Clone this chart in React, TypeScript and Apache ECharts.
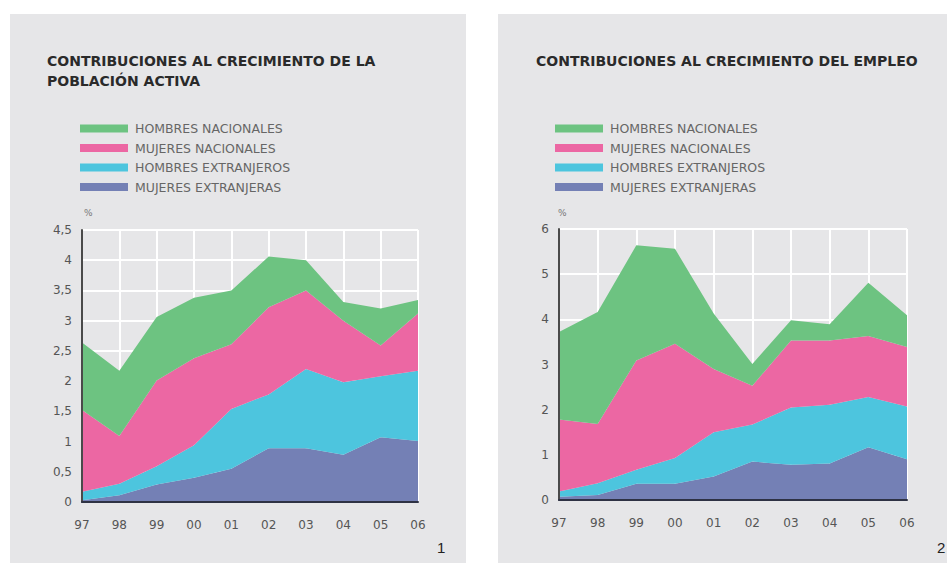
import React, { useEffect, useRef } from "react";
import * as echarts from "echarts";

const years = ["97", "98", "99", "00", "01", "02", "03", "04", "05", "06"];
const seriesNames = ["MUJERES EXTRANJERAS", "HOMBRES EXTRANJEROS", "MUJERES NACIONALES", "HOMBRES NACIONALES"];
const legendOrder = ["HOMBRES NACIONALES", "MUJERES NACIONALES", "HOMBRES EXTRANJEROS", "MUJERES EXTRANJERAS"];
const colors = ["#7480b5", "#4dc5de", "#ec67a3", "#6dc381"];

// Chart 1: contribuciones al crecimiento de la población activa (stacked increments)
const activaMujeresExt = [0.03, 0.11, 0.29, 0.40, 0.55, 0.89, 0.89, 0.78, 1.07, 1.01];
const activaHombresExt = [0.14, 0.19, 0.30, 0.54, 0.99, 0.89, 1.31, 1.20, 1.01, 1.16];
const activaMujeresNac = [1.35, 0.79, 1.42, 1.44, 1.07, 1.44, 1.30, 1.02, 0.51, 0.95];
const activaHombresNac = [1.12, 1.08, 1.05, 1.00, 0.89, 0.84, 0.50, 0.31, 0.61, 0.22];

// Chart 2: contribuciones al crecimiento del empleo (stacked increments)
const empleoMujeresExt = [0.07, 0.11, 0.36, 0.36, 0.52, 0.85, 0.78, 0.81, 1.17, 0.90];
const empleoHombresExt = [0.12, 0.26, 0.31, 0.57, 0.98, 0.82, 1.27, 1.30, 1.11, 1.17];
const empleoMujeresNac = [1.59, 1.31, 2.42, 2.53, 1.40, 0.86, 1.48, 1.42, 1.35, 1.32];
const empleoHombresNac = [1.94, 2.48, 2.55, 2.10, 1.23, 0.48, 0.45, 0.36, 1.18, 0.70];

const titleLeft = ["CONTRIBUCIONES AL CRECIMIENTO DE LA", "POBLACIÓN ACTIVA"];
const titleRight = "CONTRIBUCIONES AL CRECIMIENTO DEL EMPLEO";

const FONT = "'DejaVu Sans', 'Liberation Sans', Arial, sans-serif";
const PANEL_BG = "#e6e6e8";

function makeSeries(data: number[][], idx: number) {
  return data.map((d, i) => ({
    name: seriesNames[i],
    type: "line",
    xAxisIndex: idx,
    yAxisIndex: idx,
    stack: "s" + idx,
    data: d,
    symbol: "none",
    smooth: false,
    lineStyle: { width: 0 },
    itemStyle: { color: colors[i] },
    areaStyle: { color: colors[i], opacity: 1 },
    z: 2,
  }));
}

function makeX(idx: number) {
  return {
    type: "category",
    gridIndex: idx,
    position: "bottom",
    data: years,
    boundaryGap: false,
    axisLine: { show: false },
    axisTick: { show: false },
    axisLabel: { color: "#555", fontSize: 12, fontFamily: FONT, margin: 17 },
    splitLine: { show: true, lineStyle: { color: "#ffffff", width: 2 } },
    z: 0,
  };
}

function makeXLine(idx: number) {
  return {
    type: "category",
    gridIndex: idx,
    position: "bottom",
    offset: 0,
    data: years,
    boundaryGap: false,
    axisLine: { show: true, onZero: false, lineStyle: { color: "#2e3244", width: 2 } },
    axisTick: { show: false },
    axisLabel: { show: false },
    splitLine: { show: false },
    z: 10,
  };
}

function makeY(idx: number, max: number, interval: number) {
  return {
    type: "value",
    gridIndex: idx,
    position: "left",
    min: 0,
    max,
    interval,
    axisLine: { show: false },
    axisTick: { show: false },
    axisLabel: {
      color: "#555",
      fontSize: 12,
      fontFamily: FONT,
      margin: 10,
      formatter: (v: number) => String(v).replace(".", ","),
    },
    splitLine: { show: true, lineStyle: { color: "#ffffff", width: 2 } },
    z: 0,
  };
}

function makeYLine(idx: number, max: number) {
  return {
    type: "value",
    gridIndex: idx,
    position: "left",
    offset: 0,
    min: 0,
    max,
    axisLine: { show: true, onZero: false, lineStyle: { color: "#4a4a4a", width: 2 } },
    axisTick: { show: false },
    axisLabel: { show: false },
    splitLine: { show: false },
    z: 10,
  };
}

function makeLegend(left: number) {
  return {
    orient: "vertical",
    left,
    top: 122,
    padding: 0,
    data: legendOrder,
    icon: "rect",
    itemWidth: 48,
    itemHeight: 8,
    itemGap: 6.5,
    selectedMode: false,
    textStyle: { color: "#666", fontSize: 12.5, fontFamily: FONT, padding: [0, 0, 0, 2] },
  };
}

export default function App() {
  const ref = useRef<HTMLDivElement>(null);
  useEffect(() => {
    if (!ref.current) return;
    const chart = echarts.init(ref.current, null, { renderer: "svg" });
    chart.setOption({
      animation: false,
      backgroundColor: "#ffffff",
      grid: [
        { left: 82, top: 230, width: 336, height: 272 },
        { left: 559, top: 229, width: 348, height: 271 },
      ],
      xAxis: [makeX(0), makeX(1), makeXLine(0), makeXLine(1)],
      yAxis: [makeY(0, 4.5, 0.5), makeY(1, 6, 1), makeYLine(0, 4.5), makeYLine(1, 6)],
      legend: [makeLegend(80), makeLegend(555)],
      series: [
        ...makeSeries([activaMujeresExt, activaHombresExt, activaMujeresNac, activaHombresNac], 0),
        ...makeSeries([empleoMujeresExt, empleoHombresExt, empleoMujeresNac, empleoHombresNac], 1),
      ],
      graphic: [
        { type: "rect", z: -10, shape: { x: 10, y: 14, width: 456, height: 549 }, style: { fill: PANEL_BG } },
        { type: "rect", z: -10, shape: { x: 498, y: 14, width: 449, height: 549 }, style: { fill: PANEL_BG } },
        {
          type: "text", x: 47, y: 54,
          style: { text: titleLeft[0], font: `bold 14px ${FONT}`, fill: "#2a2a2a" },
        },
        {
          type: "text", x: 47, y: 74,
          style: { text: titleLeft[1], font: `bold 14px ${FONT}`, fill: "#2a2a2a" },
        },
        {
          type: "text", x: 536, y: 54,
          style: { text: titleRight, font: `bold 14px ${FONT}`, fill: "#2a2a2a" },
        },
        { type: "text", x: 84, y: 208, style: { text: "%", font: `9px ${FONT}`, fill: "#777" } },
        { type: "text", x: 558, y: 208, style: { text: "%", font: `9px ${FONT}`, fill: "#777" } },
        { type: "text", x: 437, y: 540, style: { text: "1", font: `15px 'Liberation Sans', Arial, sans-serif`, fill: "#222" } },
        { type: "text", x: 937, y: 540, style: { text: "2", font: `15px 'Liberation Sans', Arial, sans-serif`, fill: "#222" } },
      ],
    });
    return () => chart.dispose();
  }, []);
  return (
    <div
      ref={ref}
      style={{ position: "absolute", left: 0, top: 0, width: 947, height: 563 }}
    />
  );
}
